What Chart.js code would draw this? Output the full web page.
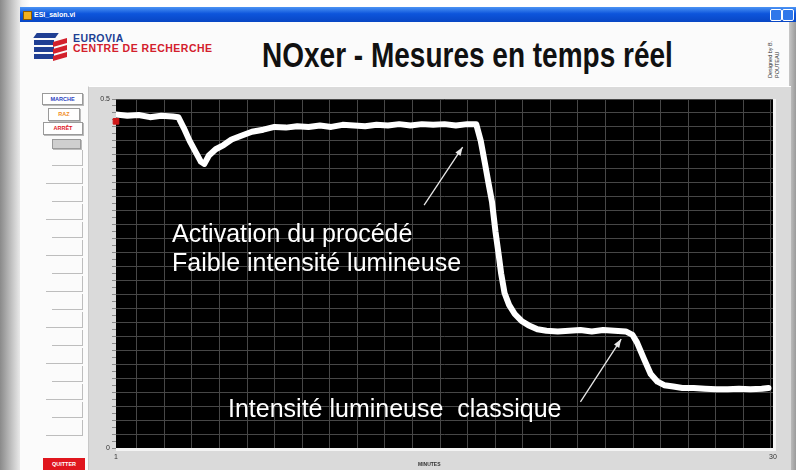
<!DOCTYPE html>
<html>
<head>
<meta charset="utf-8">
<script src="https://cdn.jsdelivr.net/npm/chart.js@4.4.1/dist/chart.umd.min.js"></script>
<style>
  html, body { margin: 0; padding: 0; }
  body {
    width: 796px; height: 470px; overflow: hidden; position: relative;
    background: linear-gradient(to right, #8a8a8a 0px, #c4c4c4 12px, #f2f2f2 22px, #fff 30px);
    font-family: "Liberation Sans", Arial, sans-serif;
  }
  .abs { position: absolute; }
  #titlebar {
    left: 20px; top: 7px; width: 776px; height: 15px;
    background: linear-gradient(#4c94f4, #0d55dc 45%, #0846c4);
    color: #fff; font-size: 7px; font-weight: bold; line-height: 15px;
  }
  #titlebar .ico { position: absolute; left: 3px; top: 4px; width: 7px; height: 7px; background: #f0b020; border: 1px solid #8a5a00; }
  #titlebar .name { position: absolute; left: 14px; top: 0; }
  #titlebar .btn { position: absolute; top: 2px; width: 10px; height: 10px; border: 1px solid #fff; border-radius: 2px; background: #2f77ea; }
  #win { left: 20px; top: 22px; width: 776px; height: 448px; background: #fbfbfb; }
  #panel { left: 88px; top: 86px; width: 702px; height: 384px; background: #dadada; border-top: 1px solid #fff; border-left: 1px solid #c8c8c8; }
  #rightbar { left: 789px; top: 22px; width: 7px; height: 448px; background: linear-gradient(to right, #c8c8c8, #9a9a9a); }
  #logo-eu { left: 73px; top: 33px; font-size: 10.5px; line-height: 10px; font-weight: 900; color: #203f93; letter-spacing: 0.4px; }
  #logo-cr { left: 73px; top: 43px; font-size: 10.5px; line-height: 10px; font-weight: 900; color: #d3202c; letter-spacing: 0.5px; }
  .slab { position: absolute; height: 5px; }
  #title {
    left: 262px; top: 35px; font-size: 35px; font-weight: bold; color: #111;
    transform: scaleX(0.80); transform-origin: left top; white-space: nowrap;
  }
  #designed {
    left: 767px; top: 48px; font-size: 5.5px; color: #333; line-height: 7px;
    transform: rotate(-90deg); transform-origin: left top; white-space: nowrap;
  }
  .btnbox {
    position: absolute; background: #fff; border: 1px solid #9a9a9a;
    box-shadow: 1px 1px 0 #bbb; font-size: 5.5px; font-weight: bold; text-align: center;
  }
  .step { position: absolute; border-bottom: 1px solid #bdbdbd; border-right: 1px solid #bdbdbd; height: 15px; }
  #quit { left: 43px; top: 458px; width: 42px; height: 12px; background: #e0161e; color: #fff; font-size: 5.5px; font-weight: bold; text-align: center; line-height: 12px; }
  #chartbox { left: 88px; top: 86px; width: 702px; height: 384px; }
  .note { position: absolute; color: #fff; font-size: 25px; white-space: pre; line-height: 29px; }
  #minutes { left: 418px; top: 461px; font-size: 5px; color: #333; font-weight: bold; }
</style>
</head>
<body>
<div id="win" class="abs"></div>
<div id="titlebar" class="abs">
  <div class="ico"></div><div class="name">ESI_salon.vi</div>
  <div class="btn" style="left:750px"></div><div class="btn" style="left:762px;background:#2f77ea"></div>
</div>
<div id="rightbar" class="abs"></div>

<!-- logo -->
<div class="slab" style="left:35px;top:33px;width:22px;background:#203f93;transform:skewX(-35deg)"></div>
<div class="slab" style="left:34px;top:40px;width:20px;background:#203f93"></div>
<div class="slab" style="left:53px;top:40px;width:14px;background:#d3202c;transform:skewY(-15deg)"></div>
<div class="slab" style="left:34px;top:47px;width:20px;background:#203f93"></div>
<div class="slab" style="left:53px;top:47px;width:14px;background:#d3202c;transform:skewY(-15deg)"></div>
<div class="slab" style="left:34px;top:54px;width:20px;background:#203f93"></div>
<div class="slab" style="left:53px;top:54px;width:14px;background:#d3202c;transform:skewY(-15deg)"></div>
<div id="logo-eu" class="abs">EUROVIA</div>
<div id="logo-cr" class="abs">CENTRE DE RECHERCHE</div>

<div id="title" class="abs">NOxer - Mesures en temps réel</div>
<div id="designed" class="abs" style="top:78px">Designed by B.<br>POUTEAU</div>

<!-- left controls -->
<div class="btnbox" style="left:42px;top:93px;width:39px;height:10px;line-height:10px;color:#2a44c0">MARCHE</div>
<div class="btnbox" style="left:48px;top:108px;width:30px;height:11px;line-height:11px;color:#f08a20">RAZ</div>
<div class="btnbox" style="left:43px;top:122px;width:38px;height:11px;line-height:11px;color:#e0161e">ARRÊT</div>
<div class="btnbox" style="left:52px;top:139px;width:27px;height:8px;background:#cfcfcf"></div>
<div id="steps"></div>
<div id="quit" class="abs">QUITTER</div>

<div id="panel" class="abs"></div>
<div id="chartbox" class="abs"><canvas id="chart" width="702" height="384"></canvas></div>

<div class="note" style="left:172px;top:219px">Activation du procédé
Faible intensité lumineuse</div>
<div class="note" style="left:228px;top:394px">Intensité lumineuse  classique</div>
<div id="minutes" class="abs">MINUTES</div>

<script>
// minutes since start / NOx signal
const minutes = [1.0, 1.5, 2.0, 2.5, 3.0, 3.5, 3.75, 4.0, 4.25, 4.5, 4.75, 4.9, 5.1, 5.4, 5.75,
  6.1, 6.5, 7.0, 7.5, 8.0, 8.5, 9.0, 9.5, 10.0, 10.5, 11.0, 11.5, 12.0, 12.5, 13.0, 13.5,
  14.0, 14.5, 15.0, 15.5, 16.0, 16.5, 16.9, 17.1, 17.3, 17.45, 17.6, 17.75, 17.9, 18.0,
  18.15, 18.35, 18.6, 18.9, 19.2, 19.6, 20.0, 20.5, 21.0, 21.5, 22.0, 22.5, 23.0, 23.5,
  23.8, 24.0, 24.3, 24.6, 24.9, 25.2, 25.6, 26.0, 26.5, 27.0, 27.5, 28.0, 28.5, 29.0, 29.5, 29.8];
const nox = [0.478, 0.476, 0.477, 0.474, 0.476, 0.475, 0.474, 0.458, 0.440, 0.425, 0.410, 0.407, 0.419, 0.428, 0.434,
  0.442, 0.447, 0.453, 0.456, 0.460, 0.459, 0.461, 0.460, 0.462, 0.460, 0.463, 0.462, 0.461, 0.463, 0.462, 0.464,
  0.462, 0.464, 0.463, 0.464, 0.462, 0.464, 0.464, 0.440, 0.405, 0.378, 0.352, 0.310, 0.275, 0.250,
  0.222, 0.205, 0.192, 0.182, 0.176, 0.170, 0.168, 0.167, 0.168, 0.169, 0.167, 0.169, 0.168, 0.167,
  0.162, 0.151, 0.128, 0.106, 0.095, 0.090, 0.088, 0.086, 0.086, 0.085, 0.084, 0.084, 0.085, 0.084, 0.085, 0.086];

const xLabels = ['1', '30'];
const yLabels = ['0', '0.5'];

// arrows: [fromMinute, fromValue, toMinute, toValue]
const arrows = [
  [14.6, 0.348, 16.3, 0.431],
  [21.5, 0.066, 23.3, 0.156]
];

// left column of empty input boxes
const steps = document.getElementById('steps');
for (let i = 0; i < 16; i++) {
  const d = document.createElement('div');
  d.className = 'step';
  const w = i % 2 ? 36 : 30;
  d.style.left = (82 - w) + 'px';
  d.style.width = w + 'px';
  d.style.top = (150 + i * 18) + 'px';
  steps.appendChild(d);
}

const plotBg = {
  id: 'plotBg',
  beforeDraw(chart) {
    const {ctx, chartArea: a} = chart;
    ctx.save();
    ctx.fillStyle = '#000';
    ctx.fillRect(a.left, a.top, a.right - a.left, a.bottom - a.top);
    ctx.restore();
  },
  afterDatasetsDraw(chart) {
    const {ctx, chartArea: a, scales} = chart;
    ctx.save();
    // frame
    ctx.strokeStyle = '#f4f4f4';
    ctx.lineWidth = 3;
    ctx.beginPath();
    ctx.moveTo(a.left, a.bottom + 1.5);
    ctx.lineTo(a.right + 1.5, a.bottom + 1.5);
    ctx.lineTo(a.right + 1.5, a.top);
    ctx.stroke();
    // arrows
    ctx.strokeStyle = '#e8e8e8';
    ctx.fillStyle = '#e8e8e8';
    ctx.lineWidth = 1.3;
    arrows.forEach(ar => {
      const x1 = scales.x.getPixelForValue(ar[0]), y1 = scales.y.getPixelForValue(ar[1]);
      const x2 = scales.x.getPixelForValue(ar[2]), y2 = scales.y.getPixelForValue(ar[3]);
      const ang = Math.atan2(y2 - y1, x2 - x1);
      ctx.beginPath();
      ctx.moveTo(x1, y1);
      ctx.lineTo(x2, y2);
      ctx.stroke();
      ctx.beginPath();
      ctx.moveTo(x2, y2);
      ctx.lineTo(x2 - 9 * Math.cos(ang - 0.35), y2 - 9 * Math.sin(ang - 0.35));
      ctx.lineTo(x2 - 9 * Math.cos(ang + 0.35), y2 - 9 * Math.sin(ang + 0.35));
      ctx.closePath();
      ctx.fill();
    });
    ctx.restore();
  }
};

const ctx = document.getElementById('chart').getContext('2d');
new Chart(ctx, {
  type: 'line',
  data: {
    datasets: [{
      label: 'NOx',
      data: minutes.map((m, i) => ({x: m, y: nox[i]})),
      borderColor: '#ffffff',
      borderWidth: 6,
      borderJoinStyle: 'round',
      borderCapStyle: 'round',
      pointRadius: 0,
      tension: 0
    }, {
      label: 'curseur',
      data: [{x: 1, y: 0.468}],
      pointStyle: 'rect',
      pointRadius: 4,
      backgroundColor: '#d01818',
      borderColor: '#d01818',
      showLine: false,
      clip: false
    }]
  },
  options: {
    responsive: false,
    animation: false,
    devicePixelRatio: 1,
    layout: {padding: {top: 13, right: 17, left: 0, bottom: 0}},
    plugins: {legend: {display: false}, tooltip: {enabled: false}},
    scales: {
      x: {
        type: 'linear', min: 1, max: 30,
        afterBuildTicks: s => {
          const t = [];
          for (let k = 0; k <= 87; k++) t.push({value: 1 + k / 3});
          s.ticks = t;
        },
        afterFit: s => { s.height = 22; },
        grid: {drawOnChartArea: false, tickLength: 3, tickColor: '#7a7a7a'},
        border: {display: false},
        ticks: {
          autoSkip: false, maxRotation: 0, padding: 2,
          color: '#333', font: {size: 7, family: 'Liberation Sans'},
          callback: v => Math.abs(v - 1) < 1e-6 ? xLabels[0] : (Math.abs(v - 30) < 1e-6 ? xLabels[1] : '')
        }
      },
      xg: {
        type: 'linear', position: 'top', min: 1, max: 30,
        afterBuildTicks: s => {
          const t = [];
          for (let k = 0; k < 24; k++) t.push({value: 1.92 + k * 1.217});
          s.ticks = t;
        },
        afterFit: s => { s.height = 0; },
        grid: {color: '#474747', lineWidth: 1, drawTicks: false},
        border: {display: false},
        ticks: {display: false}
      },
      y: {
        type: 'linear', min: 0, max: 0.5,
        afterBuildTicks: s => {
          const t = [];
          for (let k = 0; k <= 50; k++) t.push({value: k / 100});
          s.ticks = t;
        },
        afterFit: s => { s.width = 28; },
        grid: {
          color: c => (c.index % 2 === 0 ? '#474747' : 'transparent'),
          tickColor: '#8a8a8a', tickLength: 4, lineWidth: 1
        },
        border: {display: false},
        ticks: {
          autoSkip: false, padding: 2,
          color: '#333', font: {size: 7, family: 'Liberation Sans'},
          callback: v => v === 0 ? yLabels[0] : (Math.abs(v - 0.5) < 1e-9 ? yLabels[1] : '')
        }
      }
    }
  },
  plugins: [plotBg]
});
</script>
</body>
</html>
